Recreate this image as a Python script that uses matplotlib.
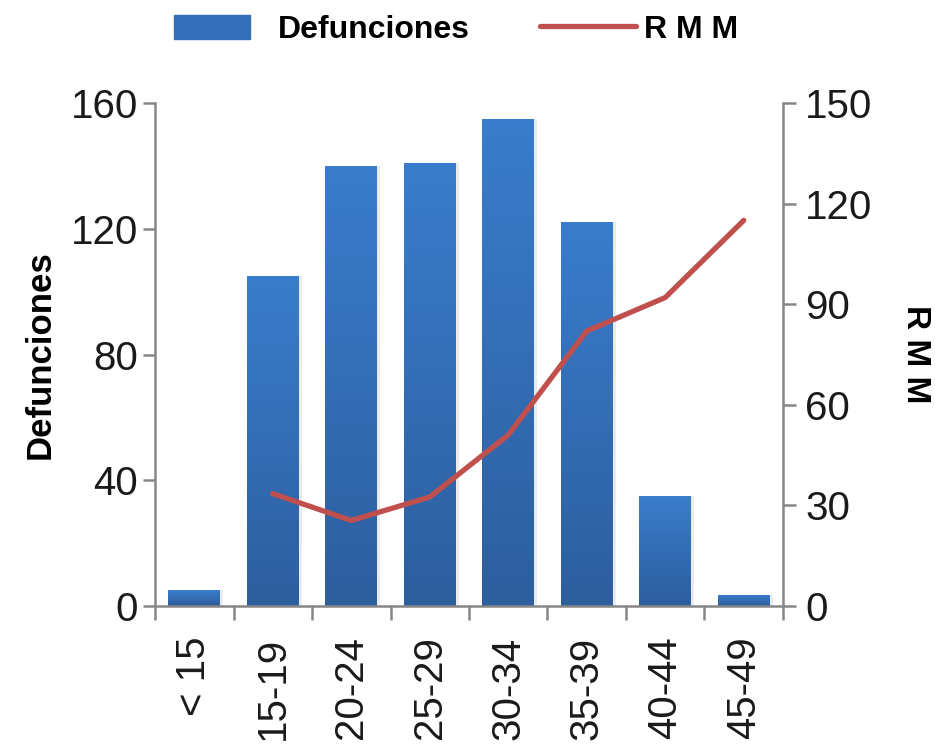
import matplotlib

matplotlib.use("Agg")
import matplotlib.pyplot as plt
import numpy as np
from matplotlib.colors import LinearSegmentedColormap
from matplotlib.legend_handler import HandlerPatch
from matplotlib.lines import Line2D
from matplotlib.patches import Patch, Rectangle

plt.rcParams["font.family"] = ["Liberation Sans", "DejaVu Sans"]

# Data
categories = ["< 15", "15-19", "20-24", "25-29", "30-34", "35-39", "40-44", "45-49"]
defunciones = [5, 105, 140, 141, 155, 122, 35, 3.5]
rmm_x = ["15-19", "20-24", "25-29", "30-34", "35-39", "40-44", "45-49"]
rmm = [33.5, 25.5, 32.5, 51, 82, 92, 115]
left_ticks = [0, 40, 80, 120, 160]
right_ticks = [0, 30, 60, 90, 120, 150]

AXIS_GRAY = "#868686"
LINE_RED = "#C0504D"
bar_cmap = LinearSegmentedColormap.from_list("bar", ["#2D5E9E", "#3A7DCC"])

fig = plt.figure(figsize=(9.35, 7.45), dpi=100)
ax = fig.add_axes([0.1658, 0.1866, 0.6716, 0.6751])
ax2 = ax.twinx()

x = np.arange(len(categories))
bars = ax.bar(x, defunciones, width=0.66, color="none", edgecolor="none", zorder=2)

# vertical gradient fill for each bar
grad = np.linspace(0, 1, 256).reshape(-1, 1)
for rect in bars:
    x0, y0 = rect.get_x(), rect.get_y()
    w, h = rect.get_width(), rect.get_height()
    # soft shadow to the right
    ax.bar(x0 + w / 2 + 0.04, h, width=w, bottom=y0, color="#000000", alpha=0.08,
           zorder=1, edgecolor="none")
    im = ax.imshow(grad, cmap=bar_cmap, aspect="auto", origin="lower",
                   extent=(x0, x0 + w, y0, y0 + h), zorder=2, interpolation="bilinear")
    im.set_clip_path(rect)

ax.set_xlim(-0.5, len(categories) - 0.5)
ax.set_ylim(0, 160)
ax2.set_ylim(0, 150)

rmm_pos = [categories.index(c) for c in rmm_x]
ax2.plot(rmm_pos, rmm, color=LINE_RED, linewidth=3.8, solid_capstyle="round",
         solid_joinstyle="round", zorder=3)

for a in (ax, ax2):
    a.spines["top"].set_visible(False)
    for side in ("left", "right", "bottom"):
        a.spines[side].set_color(AXIS_GRAY)
        a.spines[side].set_linewidth(1.8)

ax.spines["right"].set_visible(False)
ax2.spines["left"].set_visible(False)
ax2.spines["bottom"].set_visible(False)

ax.set_yticks(left_ticks)
ax.tick_params(axis="y", direction="out", length=9, width=1.8, color=AXIS_GRAY,
               labelsize=29, pad=3, labelcolor="#1a1a1a")
ax2.set_yticks(right_ticks)
ax2.tick_params(axis="y", direction="out", length=9, width=1.8, color=AXIS_GRAY,
                labelsize=29, pad=7, labelcolor="#1a1a1a")

ax.set_xticks(x)
ax.set_xticklabels(categories, rotation=90)
ax.tick_params(axis="x", which="major", length=0, labelsize=29, pad=22,
               labelcolor="#1a1a1a")
ax.set_xticks(np.arange(-0.5, len(categories), 1.0), minor=True)
ax.tick_params(axis="x", which="minor", direction="out", length=10, width=1.8,
               color=AXIS_GRAY)

ax.set_ylabel("Defunciones", fontsize=25, fontweight="bold", labelpad=10)
ax2.set_ylabel("R M M", fontsize=24, fontweight="bold", rotation=270, labelpad=42)


def narrow_patch(legend, orig_handle, xdescent, ydescent, width, height, fontsize):
    pw = width * 0.79
    return Rectangle((-xdescent, -ydescent), pw, height)


handles = [
    Patch(facecolor="#3470BA", edgecolor="#3470BA"),
    Line2D([0], [0], color=LINE_RED, linewidth=3.8, solid_capstyle="round"),
]
fig.legend(handles, ["Defunciones", "R M M"], loc="center", ncol=2,
           bbox_to_anchor=(0.488, 0.96), frameon=False,
           prop={"weight": "bold", "size": 23}, handlelength=3.0, handleheight=0.8,
           columnspacing=2.2, handletextpad=0.25,
           handler_map={Patch: HandlerPatch(patch_func=narrow_patch)})

fig.savefig("out.png", dpi=100)
